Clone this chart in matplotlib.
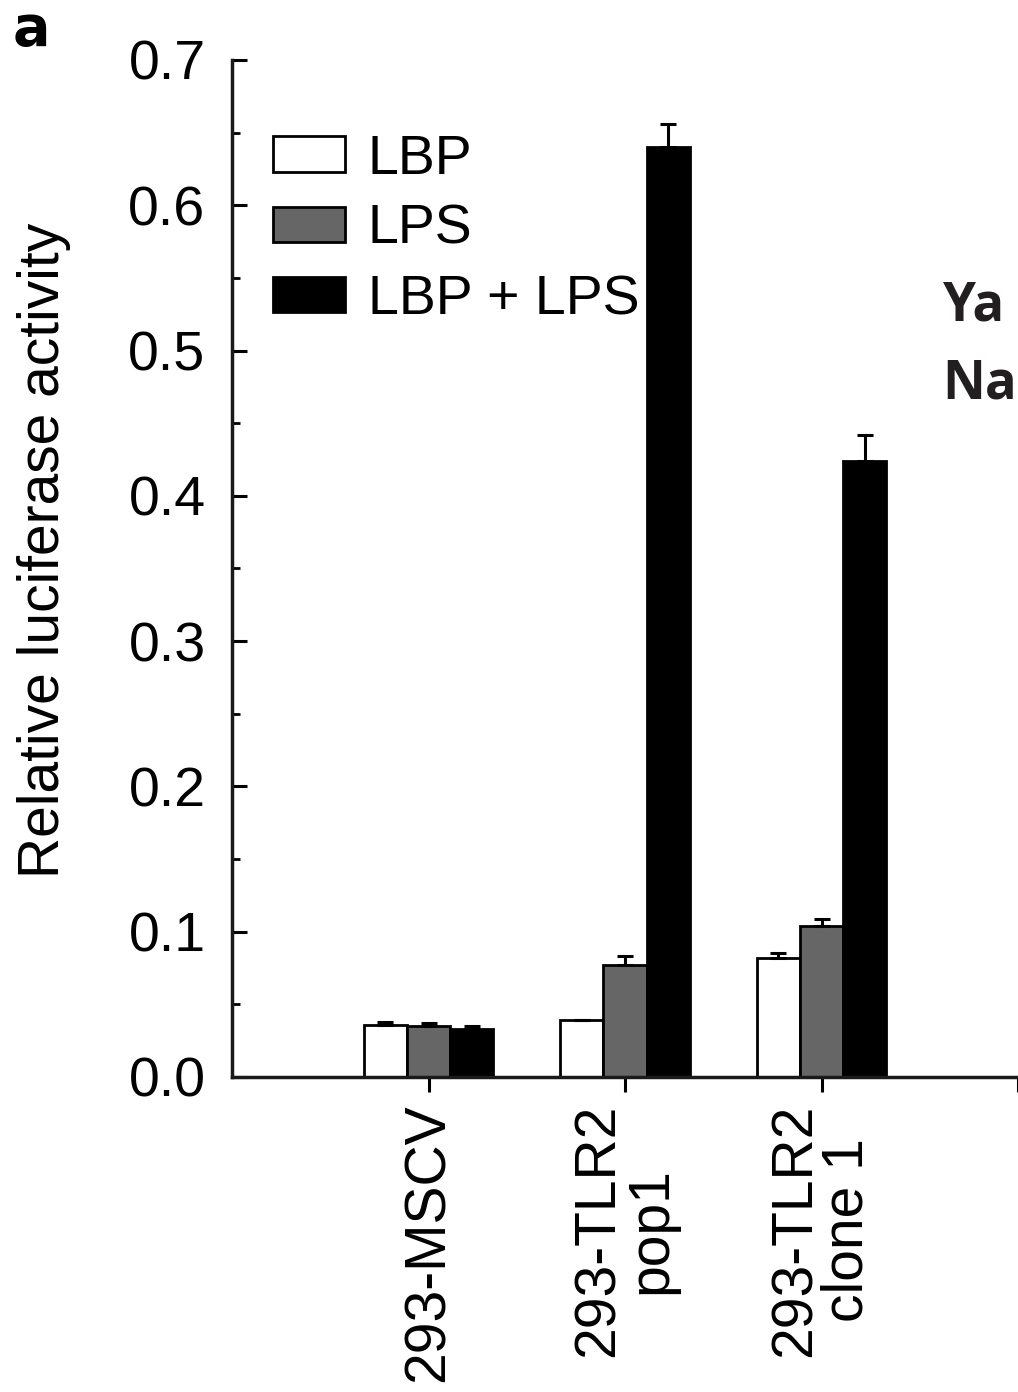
import matplotlib
matplotlib.use('Agg')
import matplotlib.pyplot as plt
from matplotlib.ticker import MultipleLocator, FormatStrFormatter
import numpy as np

plt.rcParams.update({
    'font.family': ['Liberation Sans', 'DejaVu Sans'],
    'font.size': 40,
    'axes.linewidth': 2.5,
    'figure.facecolor': 'white',
})

# luciferase readout per cell line
cell_lines = ['293-MSCV', '293-TLR2\npop1', '293-TLR2\nclone 1']
lbp = [0.036, 0.039, 0.082]
lps = [0.035, 0.077, 0.104]
lbp_lps = [0.033, 0.640, 0.424]
lbp_err = [0.002, 0.0, 0.003]
lps_err = [0.002, 0.006, 0.005]
lbp_lps_err = [0.002, 0.016, 0.018]

series = [
    ('LBP', lbp, lbp_err, 'white'),
    ('LPS', lps, lps_err, '#666666'),
    ('LBP + LPS', lbp_lps, lbp_lps_err, 'black'),
]

fig = plt.figure(figsize=(10.18, 13.92), dpi=100)
ax = fig.add_axes([0.2279, 0.2263, 0.7721, 0.7306])

x = np.arange(len(cell_lines))
width = 0.22
for k, (name, vals, errs, color) in enumerate(series):
    pos = x + (k - 1) * width
    ax.bar(pos, vals, width, color=color, edgecolor='black', linewidth=2,
           label=name, zorder=2)
    ax.errorbar(pos, vals, yerr=[np.zeros(len(errs)), errs], fmt='none',
                ecolor='black', elinewidth=2.2, capsize=6, capthick=2.2, zorder=3)

ax.set_xlim(-1, 3)
ax.set_ylim(0, 0.7)
ax.set_xticks([0, 1, 2, 3])
ax.set_xticklabels(cell_lines + [''], rotation=90, va='top', ha='center',
                   multialignment='center', linespacing=0.95, fontsize=41)
ax.yaxis.set_major_locator(MultipleLocator(0.1))
ax.yaxis.set_minor_locator(MultipleLocator(0.05))
ax.yaxis.set_major_formatter(FormatStrFormatter('%.1f'))
ax.tick_params(axis='y', which='major', direction='in', length=11, width=2.2, pad=19)
ax.tick_params(axis='y', which='minor', direction='in', length=6, width=2)
ax.tick_params(axis='x', which='major', direction='out', length=11, width=2.2, pad=8)
for s in ['top', 'right']:
    ax.spines[s].set_visible(False)
for s in ['left', 'bottom']:
    ax.spines[s].set_color('#1a1a1a')

ax.set_ylabel('Relative luciferase activity', fontsize=41)
ax.yaxis.set_label_coords(-0.205, 0.518)

ax.legend(loc='upper left', bbox_to_anchor=(0.017, 0.955), frameon=False,
          handlelength=1.3, handleheight=0.6, handletextpad=0.4,
          labelspacing=0.33, borderpad=0, fontsize=40)

# panel letter and side caption
fig.text(0.012, 0.9677, 'a', fontsize=40, fontweight='bold',
         family=['DejaVu Sans'], ha='left', va='baseline')
fig.text(0.926, 0.770, 'Ya', fontsize=38, fontweight='bold', color='#231f20',
         family=['Open Sans', 'DejaVu Sans'], ha='left', va='baseline')
fig.text(0.926, 0.714, 'Na', fontsize=38, fontweight='bold', color='#231f20',
         family=['Open Sans', 'DejaVu Sans'], ha='left', va='baseline')

fig.savefig('out.png', dpi=100)
